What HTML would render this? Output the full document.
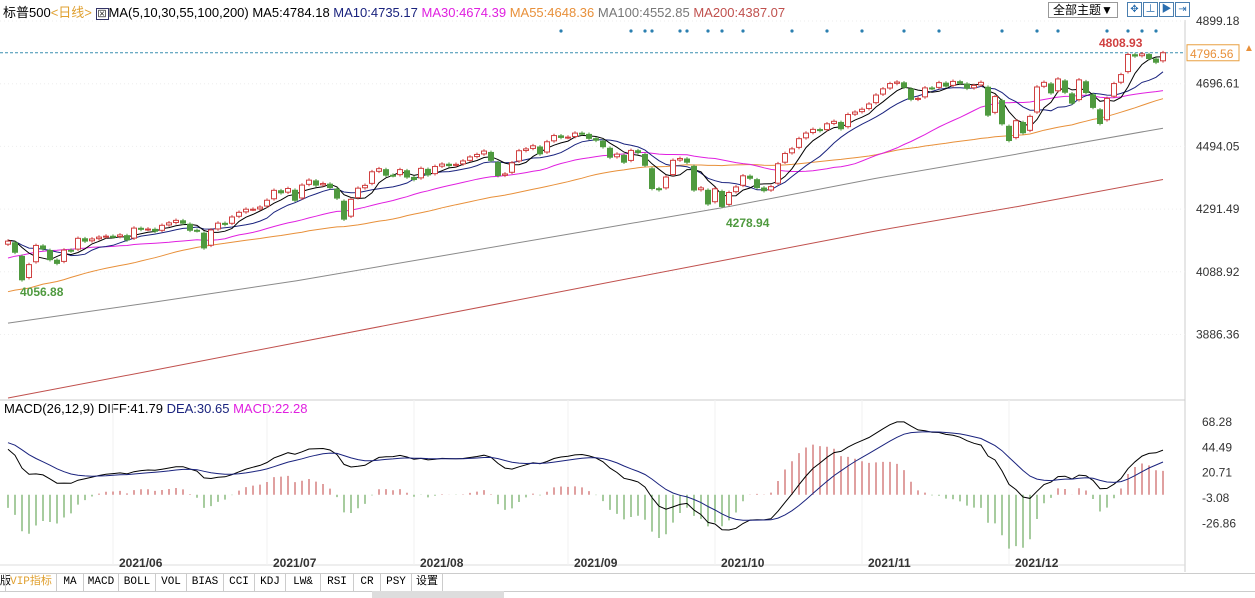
<!DOCTYPE html>
<html><head><meta charset="utf-8"><style>
body{margin:0;background:#fff;width:1255px;height:598px;overflow:hidden;font-family:"Liberation Sans","Noto Sans CJK SC",sans-serif}
#wrap{position:relative;width:1255px;height:598px}
.t{position:absolute;font-size:12px;white-space:nowrap}
.ib{position:absolute;top:2px;width:13px;height:13px;border:1px solid #4a7fb0;color:#2b6fb0;font-size:10px;line-height:13px;text-align:center}
</style></head><body><div id="wrap">
<div class="t" style="left:3px;top:2px;font-size:13px">标普500<span style="color:#e0a030">&lt;日线&gt;</span> <span style="border:1px solid #336;font-size:9px;padding:0 1px">⊠</span>MA(5,10,30,55,100,200) MA5:4784.18 <span style="color:#1a237e">MA10:4735.17</span> <span style="color:#e020e0">MA30:4674.39</span> <span style="color:#e8903a">MA55:4648.36</span> <span style="color:#777">MA100:4552.85</span> <span style="color:#c0504d">MA200:4387.07</span></div>
<div class="t" style="left:1048px;top:2px;border:1px solid #999;padding:0 4px;font-size:12px;height:14px;line-height:14px">全部主题▼</div>
<div class="ib" style="left:1127px">✥</div>
<div class="ib" style="left:1143px">⊥</div>
<div class="ib" style="left:1159px">▶</div>
<div class="ib" style="left:1175px">⇥</div>
<div class="t" style="left:4px;top:401px;font-size:13px">MACD(26,12,9) DIFF:41.79 <span style="color:#1a237e">DEA:30.65</span> <span style="color:#e020e0">MACD:22.28</span></div>
<div class="t" style="left:0;top:573px;width:1255px;height:17px;border-top:1px solid #ccc;border-bottom:1px solid #ccc;font-family:'Liberation Mono','Noto Sans CJK SC',monospace;font-size:11px;line-height:17px"><span style="display:inline-block;width:5px">版</span><span style="color:#e0a030;display:inline-block;width:50px;text-align:center;border-left:1px solid #ccc">VIP指标</span><span style="display:inline-block;width:26px;text-align:center;border-left:1px solid #ccc">MA</span><span style="display:inline-block;width:34px;text-align:center;border-left:1px solid #ccc">MACD</span><span style="display:inline-block;width:36px;text-align:center;border-left:1px solid #ccc">BOLL</span><span style="display:inline-block;width:30px;text-align:center;border-left:1px solid #ccc">VOL</span><span style="display:inline-block;width:36px;text-align:center;border-left:1px solid #ccc">BIAS</span><span style="display:inline-block;width:30px;text-align:center;border-left:1px solid #ccc">CCI</span><span style="display:inline-block;width:30px;text-align:center;border-left:1px solid #ccc">KDJ</span><span style="display:inline-block;width:34px;text-align:center;border-left:1px solid #ccc">LW&amp;</span><span style="display:inline-block;width:32px;text-align:center;border-left:1px solid #ccc">RSI</span><span style="display:inline-block;width:26px;text-align:center;border-left:1px solid #ccc">CR</span><span style="display:inline-block;width:30px;text-align:center;border-left:1px solid #ccc">PSY</span><span style="display:inline-block;width:30px;text-align:center;border-left:1px solid #ccc;border-right:1px solid #ccc">设置</span></div>
<div style="position:absolute;left:372px;top:591px;width:132px;height:7px;background:#ddd"></div>
<svg id="s" width="1255" height="598" style="position:absolute;left:0;top:0"></svg>
</div>
<script>
const hist=[3876,3881,3925,3829,3811,3901,3870,3819,3768,3842,3821,3875,3898,3939,3943,3968,3962,3974,3915,3913,3940,3910,3889,3909,3974,3971,3958,3972,4019,4077,4073,4079,4097,4128,4127,4141,4124,4170,4185,4163,4134,4173,4135,4180,4187,4186,4183,4211,4181,4192,4165,4167,4201,4232];
const closes=[4188,4152,4063,4112,4174,4163,4128,4116,4159,4156,4197,4188,4195,4201,4204,
4202,4208,4192,4230,4226,4227,4220,4239,4247,4255,4246,4223,4222,4166,4224,4246,4242,4266,4281,4291,4291,4298,
4320,4352,4344,4358,4320,4369,4385,4369,4374,4361,4327,4259,4323,4359,4368,4412,4422,4401,4400,4419,4395,
4387,4423,4402,4429,4437,4432,4436,4447,4460,4468,4479,4449,4400,4405,4441,4480,4486,4496,4470,4509,4529,4523,
4524,4537,4535,4520,4514,4493,4459,4469,4443,4481,4474,4433,4358,4354,4395,4449,4455,4443,4353,4360,4308,
4357,4300,4345,4363,4399,4391,4361,4351,4364,4438,4471,4486,4519,4537,4549,4545,4567,4575,4551,4597,4605,
4614,4631,4660,4680,4697,4702,4685,4646,4649,4683,4682,4700,4689,4704,4698,4682,4691,4701,4595,4655,4567,
4513,4577,4538,4591,4686,4701,4667,4712,4669,4634,4709,4668,4620,4568,4649,4697,4726,4791,4786,4793,4778,4766,4796.56];
const ma100pts=[3923,3990,4060,4140,4220,4300,4390,4470,4552.85];
const ma200pts=[3681,3770,3860,3950,4040,4130,4220,4300,4387.07];
const priceTicks=["4899.18","4696.61","4494.05","4291.49","4088.92","3886.36"];
const macdTicks=["68.28","44.49","20.71","-3.08","-26.86"];
const months=["2021/06","2021/07","2021/08","2021/09","2021/10","2021/11","2021/12"];
const monthStart=[15,37,58,80,101,122,143];
const dotIdx=[79,89,91,92,96,97,100,102,105,112,117,122,128,133,142,147,150,157,160,162,164];
const NS="http://www.w3.org/2000/svg",svg=document.getElementById('s');
function el(t,a){const e=document.createElementNS(NS,t);for(const k in a)e.setAttribute(k,a[k]);svg.appendChild(e);return e;}
const xs=i=>8+i*7.0, py=p=>21+(4899.18-p)*0.3095, my=v=>494.7-v*1.066;
let e=el('line',{x1:0,y1:400,x2:1185,y2:400,stroke:'#ccc'});
e=el('line',{x1:1185,y1:20,x2:1185,y2:572,stroke:'#ccc'});
e=el('line',{x1:0,y1:565,x2:1185,y2:565,stroke:'#ddd'});
priceTicks.forEach(t=>{const y=py(+t);const g=el('line',{x1:0,y1:y,x2:1185,y2:y,stroke:'#eee','stroke-dasharray':'1 3'});
const tx=el('text',{x:1196,y:y+4,'font-size':12,fill:'#333'});tx.textContent=t;});
macdTicks.forEach(t=>{const y=my(+t);const tx=el('text',{x:1202,y:y+4,'font-size':12,fill:'#333'});tx.textContent=t;});
months.forEach((m,i)=>{const x=xs(monthStart[i]);const l=el('line',{x1:x,y1:400,x2:x,y2:565,stroke:'#f2f2f2'});
const tx=el('text',{x:x+6,y:567,'font-size':12,'font-weight':'bold',fill:'#333'});tx.textContent=m;});
const last=closes[closes.length-1];
e=el('line',{x1:0,y1:py(last),x2:1185,y2:py(last),stroke:'#3a8fb0','stroke-dasharray':'3 2'});
e=el('rect',{x:1187,y:py(last)-8,width:52,height:16,fill:'#fff',stroke:'#e8a040'});
e=el('text',{x:1190,y:py(last)+5,'font-size':12,fill:'#e8903a'});e.textContent=last.toFixed(2);
e=el('text',{x:1244,y:py(last)-2,'font-size':10,fill:'#e8903a'});e.textContent='▲';
dotIdx.forEach(i=>{const d=el('circle',{cx:xs(i),cy:31,r:1.6,fill:'#2b7fb0'});});
const all=hist.concat(closes),H=hist.length;
function ma(n){return closes.map((c,i)=>{const j=i+H;const s=all.slice(Math.max(0,j-n+1),j+1);return s.reduce((a,b)=>a+b,0)/s.length;});}
function line(vals,col,name,yf){const d=vals.map((v,i)=>(i?'L':'M')+xs(i).toFixed(1)+' '+yf(v).toFixed(1)).join('');const p=el('path',{d:d,fill:'none',stroke:col,'stroke-width':1});}
function sparse(pts,col,name){const n=closes.length-1;const d=pts.map((v,i)=>(i?'L':'M')+xs(i*n/(pts.length-1)).toFixed(1)+' '+py(v).toFixed(1)).join('');const p=el('path',{d:d,fill:'none',stroke:col});}
sparse(ma200pts,'#c0504d','ma200-line');sparse(ma100pts,'#8a8a8a','ma100-line');
line(ma(55),'#e8903a','ma55-line',py);line(ma(30),'#e020e0','ma30-line',py);line(ma(10),'#1a237e','ma10-line',py);line(ma(5),'#000','ma5-line',py);
closes.forEach((c,i)=>{const o=i?closes[i-1]+(c-closes[i-1])*0.15:c-10;const hi=Math.max(o,c)+6,lo=Math.min(o,c)-6;const up=c>=o;const col=up?'#d04040':'#4f9a3f';const x=xs(i);
const w=el('line',{x1:x,y1:py(hi),x2:x,y2:py(lo),stroke:col});
const r=el('rect',{x:x-2.5,y:py(Math.max(o,c)),width:5,height:Math.max(1,Math.abs(py(o)-py(c))),fill:up?'#fff':col,stroke:col});});
e=el('text',{x:20,y:296,'font-size':12,'font-weight':'bold',fill:'#4f9a3f'});e.textContent='4056.88';
e=el('text',{x:726,y:227,'font-size':12,'font-weight':'bold',fill:'#4f9a3f'});e.textContent='4278.94';
e=el('text',{x:1099,y:47,'font-size':12,'font-weight':'bold',fill:'#d04040'});e.textContent='4808.93';
function ema(arr,n){const k=2/(n+1);let v=arr[0];return arr.map(x=>v=x*k+v*(1-k));}
const e12=ema(all,12),e26=ema(all,26);const diffAll=e12.map((v,i)=>v-e26[i]);const deaAll=ema(diffAll,9);
const diff=diffAll.slice(H),dea=deaAll.slice(H);
diff.forEach((d,i)=>{const h=2*(d-dea[i]);const b=el('line',{x1:xs(i),y1:my(0),x2:xs(i),y2:my(h),stroke:h>=0?'#c04040':'#4f9a3f'});});
line(diff,'#000','diff-line',my);line(dea,'#1a237e','dea-line',my);
</script></body></html>
